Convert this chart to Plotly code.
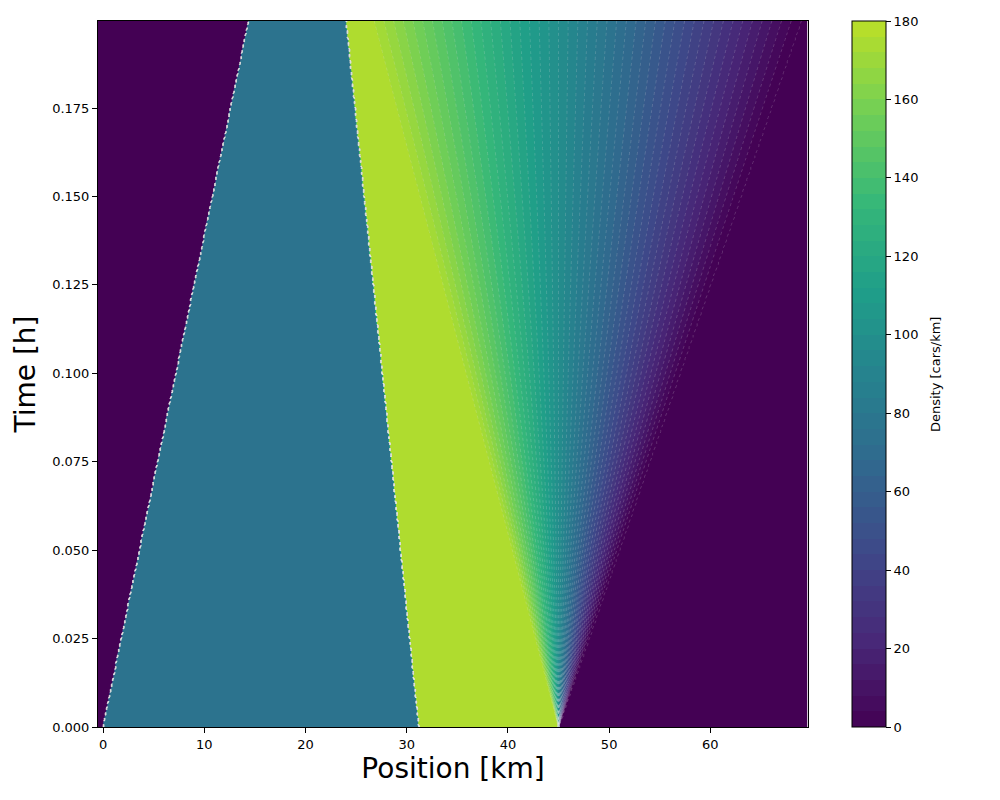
import numpy as np
import plotly.graph_objects as go
from plotly.colors import sample_colorscale

# initial condition (Riemann problems on a road)
x_breaks = [0.0, 31.2, 45.0]          # km, interfaces at t = 0
rho_init = [0.0, 80.0, 180.0, 0.0]    # cars/km on each segment
v_max = 120.0                          # km/h
rho_max = 200.0                        # cars/km

x_range = [-0.5, 69.65]
t_end = 0.1996
level_step = 4
level_top = 180
cbar_ticks = [0, 20, 40, 60, 80, 100, 120, 140, 160, 180]
x_ticks = [0, 10, 20, 30, 40, 50, 60]
t_ticks = [0.0, 0.025, 0.05, 0.075, 0.1, 0.125, 0.15, 0.175]


def shock_speed(rl, rr):
    return v_max * (1 - (rl + rr) / rho_max)


x = np.arange(x_range[0], x_range[1] + 0.05, 0.1)
t = np.linspace(0, t_end, 300)
X, T = np.meshgrid(x, t)
Ts = np.where(T == 0, 1e-9, T)

s1 = shock_speed(rho_init[0], rho_init[1])
s2 = shock_speed(rho_init[1], rho_init[2])
xi = (X - x_breaks[2]) / Ts
fan = np.clip(rho_max / 2 * (1 - xi / v_max), rho_init[3], rho_init[2])

rho = np.where(X < x_breaks[0] + s1 * T, rho_init[0],
               np.where(X < x_breaks[1] + s2 * T, rho_init[1], fan))
rho = np.round(rho, 2)

# matplotlib-like banding: colour of a band = viridis(mid / 200)
n = 120
pos = np.linspace(0, 1, n)
span = (level_top / level_step + 1) * level_step
vals = pos * span - level_step
cols = sample_colorscale('Viridis', list(np.clip(vals, 0, None) / rho_max))
cscale = [[float(p), c] for p, c in zip(pos, cols)]

# stepped scale for the colour bar (exactly 0..180)
nb = int(level_top / level_step)
band_cols = sample_colorscale('Viridis', [(level_step * i + level_step / 2) / rho_max for i in range(nb)])
step_scale = []
for i, c in enumerate(band_cols):
    step_scale.append([i / nb, c])
    step_scale.append([(i + 1) / nb, c])

fig = go.Figure()
fig.add_trace(go.Contour(
    x=x, y=t, z=rho,
    colorscale=cscale, showscale=False,
    contours=dict(start=0, end=level_top, size=level_step, coloring='fill', showlines=True),
    line=dict(width=0.6, color='rgba(230,230,230,0.35)', smoothing=0, dash='dot'),
    hovertemplate='x=%{x:.2f} km<br>t=%{y:.4f} h<br>rho=%{z:.1f}<extra></extra>',
))
fig.add_trace(go.Scatter(
    x=[None], y=[None], mode='markers', showlegend=False, hoverinfo='skip',
    marker=dict(
        color=[0], cmin=0, cmax=level_top, colorscale=step_scale, showscale=True,
        colorbar=dict(
            x=1.062, xanchor='left', y=0.5, yanchor='middle', len=1, lenmode='fraction',
            thickness=34, xpad=0, ypad=0, outlinewidth=1, outlinecolor='black',
            tickmode='array', tickvals=cbar_ticks, ticks='outside', ticklen=5,
            tickcolor='black', tickfont=dict(size=13, color='black'),
        ),
    ),
))

axis_common = dict(showgrid=False, zeroline=False, showline=True, linecolor='black',
                   linewidth=1, mirror=True, ticks='outside', ticklen=5, tickcolor='black',
                   tickfont=dict(size=13, color='black'), automargin=False)
fig.update_xaxes(range=x_range, tickvals=x_ticks,
                 title=dict(text='Position [km]', font=dict(size=28, color='black'), standoff=6),
                 **axis_common)
fig.update_yaxes(range=[0, t_end], tickvals=t_ticks, tickformat='.3f',
                 title=dict(text='Time [h]', font=dict(size=28, color='black'), standoff=8),
                 **axis_common)

fig.add_annotation(text='Density [cars/km]', xref='paper', yref='paper', x=1.179, y=0.5,
                   textangle=-90, showarrow=False, xanchor='center', yanchor='middle',
                   font=dict(size=13, color='black'))

fig.update_layout(
    width=1000, height=800,
    margin=dict(l=90, r=200, t=13, b=81, autoexpand=False),
    paper_bgcolor='white', plot_bgcolor='white',
    font=dict(family='DejaVu Sans', color='black'),
)

fig.write_html("out.html")
